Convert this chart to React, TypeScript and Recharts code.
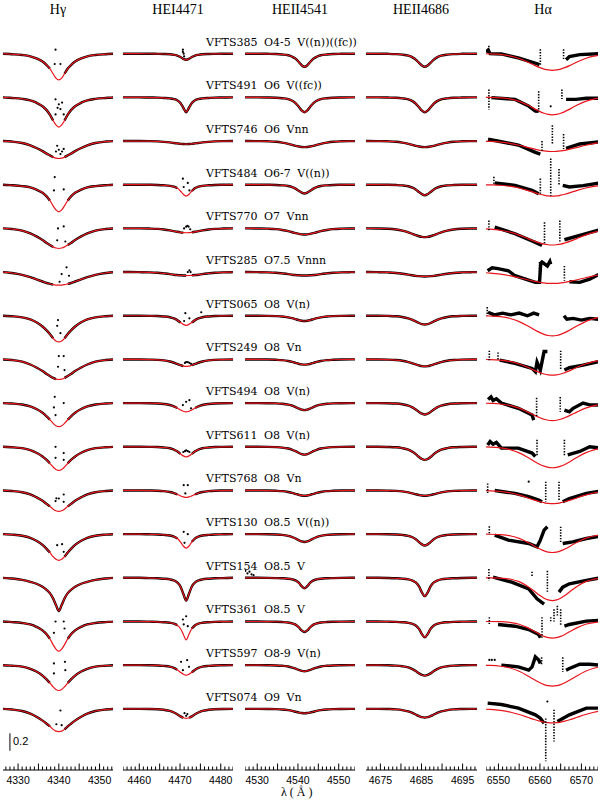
import React from 'react';
import { ComposedChart, Line, Scatter, XAxis, YAxis, ReferenceLine } from 'recharts';

// star names and spectral types, top to bottom
const STAR_IDS = ['VFTS385', 'VFTS491', 'VFTS746', 'VFTS484', 'VFTS770', 'VFTS285', 'VFTS065', 'VFTS249',
  'VFTS494', 'VFTS611', 'VFTS768', 'VFTS130', 'VFTS154', 'VFTS361', 'VFTS597', 'VFTS074'];
const SP_TYPES = ['O4-5 V((n))((fc))', 'O6 V((fc))', 'O6 Vnn', 'O6-7 V((n))', 'O7 Vnn', 'O7.5 Vnnn', 'O8 V(n)', 'O8 Vn',
  'O8 V(n)', 'O8 V(n)', 'O8 Vn', 'O8.5 V((n))', 'O8.5 V', 'O8.5 V', 'O8-9 V(n)', 'O9 Vn'];

const PANEL_TITLES = ['Hγ', 'HEI4471', 'HEII4541', 'HEII4686', 'Hα'];
const LINE_CENTERS = [4340.0, 4471.5, 4541.6, 4685.8, 6563.0];
const X_DOMAINS = [[4326.3, 4353.3], [4456, 4483], [4527, 4554], [4671.5, 4698.5], [6547, 6574]];
const TICK_LABELS = [[4330, 4340, 4350], [4460, 4470, 4480], [4530, 4540, 4550], [4675, 4685, 4695], [6550, 6560, 6570]];

// offsets from line centre (A) at which the profiles are read, mirrored on both sides
const GRID = [0, 0.7, 1.4, 2.2, 3, 4, 5.5, 7, 9, 11.5, 14, 17];
const GRID_HA = [0, 1, 2, 3, 4.5, 6, 8, 10, 12.5, 15, 18];

const ROW_STEP = 0.5;
const Y_DOMAIN = [0.3, 9.0];
const SCALE_BAR = [0.52, 0.72];

// model (red) line depths below continuum
const HG_MODEL = [
  [.30, .28, .23, .17, .13, .09, .054, .03, .015, .006, 0, 0],
  [.34, .316, .265, .197, .146, .102, .061, .034, .017, .007, 0, 0],
  [.20, .196, .184, .164, .144, .116, .08, .05, .022, .006, 0, 0],
  [.31, .288, .242, .18, .133, .093, .056, .031, .016, .006, 0, 0],
  [.23, .225, .212, .189, .166, .133, .092, .058, .025, .007, 0, 0],
  [.15, .149, .144, .135, .125, .108, .083, .059, .032, .011, 0, 0],
  [.30, .288, .258, .21, .168, .123, .075, .042, .018, .006, 0, 0],
  [.23, .225, .212, .189, .166, .133, .092, .058, .025, .007, 0, 0],
  [.27, .259, .232, .189, .151, .111, .068, .038, .016, .005, 0, 0],
  [.27, .259, .232, .189, .151, .111, .068, .038, .016, .005, 0, 0],
  [.24, .233, .214, .182, .154, .118, .078, .046, .02, .006, 0, 0],
  [.30, .288, .258, .21, .168, .123, .075, .042, .018, .006, 0, 0],
  [.38, .312, .236, .175, .137, .103, .068, .046, .023, .008, 0, 0],
  [.34, .316, .265, .197, .146, .102, .061, .034, .017, .007, 0, 0],
  [.29, .278, .249, .203, .162, .119, .073, .041, .017, .006, 0, 0],
  [.26, .255, .235, .20, .17, .135, .09, .055, .025, .008, 0, 0],
];

const HEI_MODEL = [
  [.07, .06, .038, .021, .013, .007, .0035, .002, .001, 0, 0, 0],
  [.17, .119, .065, .034, .02, .012, .007, .003, .002, 0, 0, 0],
  [.035, .034, .032, .027, .022, .016, .009, .004, .001, 0, 0, 0],
  [.13, .11, .072, .039, .023, .013, .0065, .003, .001, 0, 0, 0],
  [.05, .049, .045, .039, .032, .023, .013, .006, .002, 0, 0, 0],
  [.04, .039, .037, .034, .03, .023, .015, .008, .003, .001, 0, 0],
  [.11, .099, .077, .05, .031, .017, .008, .003, .001, 0, 0, 0],
  [.08, .076, .066, .052, .038, .024, .011, .005, .002, 0, 0, 0],
  [.10, .093, .078, .056, .038, .022, .01, .004, .001, 0, 0, 0],
  [.115, .104, .081, .052, .032, .017, .008, .003, .001, 0, 0, 0],
  [.08, .074, .062, .045, .03, .018, .008, .003, .001, 0, 0, 0],
  [.16, .136, .088, .048, .029, .016, .008, .004, .002, 0, 0, 0],
  [.26, .182, .099, .052, .031, .018, .01, .005, .003, 0, 0, 0],
  [.21, .147, .08, .042, .025, .015, .008, .004, .002, 0, 0, 0],
  [.115, .104, .081, .052, .032, .017, .008, .003, .001, 0, 0, 0],
  [.11, .102, .086, .062, .042, .024, .011, .004, .001, 0, 0, 0],
];

const HEII4541_MODEL = [
  [.15, .132, .095, .057, .035, .018, .009, .004, .0015, 0, 0, 0],
  [.17, .15, .107, .065, .039, .02, .01, .005, .002, 0, 0, 0],
  [.07, .068, .063, .055, .044, .032, .018, .008, .003, .001, 0, 0],
  [.10, .09, .07, .045, .028, .015, .007, .003, .001, 0, 0, 0],
  [.07, .068, .063, .055, .044, .032, .018, .008, .003, .001, 0, 0],
  [.04, .039, .037, .034, .03, .023, .015, .008, .003, .001, 0, 0],
  [.06, .057, .05, .039, .028, .018, .008, .004, .001, 0, 0, 0],
  [.06, .057, .05, .039, .028, .018, .008, .004, .001, 0, 0, 0],
  [.08, .074, .062, .045, .03, .018, .008, .003, .001, 0, 0, 0],
  [.09, .084, .07, .05, .034, .02, .009, .004, .001, 0, 0, 0],
  [.06, .057, .05, .039, .028, .018, .008, .004, .001, 0, 0, 0],
  [.09, .084, .07, .05, .034, .02, .009, .004, .001, 0, 0, 0],
  [.12, .096, .056, .03, .018, .01, .005, .003, .001, 0, 0, 0],
  [.12, .102, .066, .036, .022, .012, .006, .003, .001, 0, 0, 0],
  [.07, .065, .055, .039, .027, .015, .007, .003, .001, 0, 0, 0],
  [.05, .048, .042, .033, .024, .015, .007, .003, .001, 0, 0, 0],
];

const HEII4686_MODEL = [
  [.15, .135, .105, .068, .042, .023, .011, .005, .0015, 0, 0, 0],
  [.17, .151, .114, .071, .043, .022, .011, .005, .002, 0, 0, 0],
  [.07, .068, .063, .055, .044, .032, .018, .008, .003, .001, 0, 0],
  [.12, .108, .084, .054, .034, .018, .008, .004, .001, 0, 0, 0],
  [.10, .097, .09, .078, .063, .045, .025, .012, .004, .001, 0, 0],
  [.05, .049, .047, .043, .037, .029, .019, .01, .004, .001, 0, 0],
  [.10, .095, .083, .065, .047, .03, .014, .006, .002, 0, 0, 0],
  [.08, .077, .069, .057, .044, .03, .015, .007, .002, 0, 0, 0],
  [.13, .121, .101, .073, .049, .029, .013, .005, .001, 0, 0, 0],
  [.15, .14, .117, .084, .057, .033, .015, .006, .002, 0, 0, 0],
  [.06, .058, .052, .043, .033, .022, .011, .005, .002, 0, 0, 0],
  [.13, .117, .091, .059, .036, .02, .009, .004, .001, 0, 0, 0],
  [.21, .168, .099, .053, .032, .018, .009, .005, .002, 0, 0, 0],
  [.18, .144, .085, .045, .027, .015, .008, .004, .002, 0, 0, 0],
  [.12, .112, .094, .067, .046, .026, .012, .005, .001, 0, 0, 0],
  [.10, .095, .083, .065, .047, .03, .014, .006, .002, 0, 0, 0],
];

const HA_MODEL = [
  [.19, .186, .176, .16, .129, .095, .055, .028, .009, .002, 0],
  [.20, .195, .182, .163, .126, .088, .046, .02, .006, .001, 0],
  [.12, .118, .113, .106, .09, .072, .048, .029, .013, .005, .001],
  [.13, .128, .12, .109, .088, .065, .038, .019, .006, .002, 0],
  [.19, .187, .18, .167, .143, .114, .077, .046, .021, .008, .002],
  [.13, .129, .124, .118, .104, .088, .065, .044, .024, .011, .004],
  [.23, .226, .213, .193, .156, .115, .067, .034, .011, .003, 0],
  [.18, .177, .167, .151, .122, .09, .053, .026, .009, .002, 0],
  [.20, .196, .185, .168, .135, .1, .058, .029, .01, .003, 0],
  [.24, .235, .222, .202, .162, .12, .07, .035, .012, .003, 0],
  [.15, .148, .14, .129, .108, .083, .053, .029, .012, .004, .001],
  [.21, .205, .192, .171, .132, .092, .049, .021, .006, .001, 0],
  [.26, .253, .233, .203, .148, .096, .044, .016, .003, 0, 0],
  [.19, .185, .17, .148, .108, .07, .032, .012, .002, 0, 0],
  [.24, .235, .222, .202, .162, .12, .07, .035, .012, .003, 0],
  [.16, .158, .151, .141, .12, .096, .065, .039, .018, .007, .002],
];

// observed spectra: wavelength ranges (offset from centre) where the data leave the model
const HG_GAPS = [[-2.0, 1.3], [-1.3, 1.3], [-1.0, 1.3], [-1.5, 1.5], [-0.8, 1.5], [-0.8, 2.0], [-1.0, 1.3], [-0.5, 1.3],
  [-2.0, 1.5], [-1.5, 1.8], [-1.5, 2.0], [-1.5, 1.3], [0, 0], [-1.5, 1.5], [-2.0, 2.0], [-2.0, 1.2]];
const HEI_GAPS = [[0, 0], [0, 0], [0, 0], [-1.5, 1.3], [-0.6, 1.2], [0, 1.2], [-1.0, 1.0], [-0.4, 1.0],
  [-1.7, 1.7], [-0.8, 0.9], [-1.5, 1.5], [-1.5, 0.9], [0, 0], [-1.5, 0.8], [-1.5, 1.0], [-0.6, 0.6]];
const HEII_GAPS = STAR_IDS.map(() => [0, 0]);

// stray observed points [offset, depth]
const HG_DOTS = [
  [[-0.8, -0.046], [-1.0, 0.118], [0.4, 0.118]],
  [[-0.8, 0.023], [0, 0.08], [0.8, 0.06], [0.4, 0.134], [-0.8, 0.195], [1.2, 0.195], [-0.3, 0.12]],
  [[-0.4, 0.054], [0, 0.1], [0.4, 0.149], [0.8, 0.12], [1.2, 0.09], [-0.7, 0.12]],
  [[-1.0, -0.088], [-1.2, 0.065], [1.2, 0.054]],
  [[-0.2, 0.0], [1.2, -0.023], [-0.4, 0.137], [1.6, 0.15]],
  [[1.9, -0.054], [0.7, 0.023], [2.5, 0.042], [0.2, 0.111]],
  [[-0.4, 0.115], [0.4, 0.2], [-0.2, 0.05]],
  [[0, -0.038], [1.2, -0.038], [-0.2, 0.084], [1.4, 0.122]],
  [[-1.0, -0.072], [-1.2, 0.05], [1.2, 0.0], [-0.8, 0.137]],
  [[-0.8, 0.0], [-0.8, 0.126], [1.2, 0.072], [1.2, 0.149]],
  [[-0.8, 0.122], [0, 0.092], [1.2, 0.046], [1.2, 0.13], [-0.6, 0.09]],
  [[-0.4, 0.126], [0.8, 0.115], [1.2, 0.203]],
  [],
  [[-0.8, 0.0], [1.2, 0.0], [-1.2, 0.13], [1.4, 0.08]],
  [[-1.2, -0.02], [1.5, -0.038], [1.6, 0.057], [-1.2, 0.095]],
  [[0.4, 0.019], [-0.6, 0.176], [0.7, 0.187]],
];
const HEI_DOTS = [
  [[-0.8, -0.046], [-0.8, -0.02], [-0.6, 0.0], [-0.5, 0.03]],
  [], [],
  [[-0.8, -0.069], [0.4, -0.02], [-0.6, 0.026], [0.8, 0.065]],
  [[-0.5, 0.0], [0, -0.02], [0.3, -0.03], [0.6, -0.02], [1.0, 0.01]],
  [[0.4, 0.0], [0.8, -0.02], [1.1, 0.0]],
  [[-0.2, -0.03], [0.8, 0.03], [3.7, -0.04], [-0.5, 0.06]],
  [[-0.3, 0.04], [0, 0.03], [0.4, 0.03], [0.8, 0.04], [1.2, 0.05]],
  [[-0.8, 0.023], [0, -0.015], [0.8, -0.034], [1.2, 0.06]],
  [[-0.7, 0.06], [-0.3, 0.05], [0, 0.04], [0.4, 0.05], [0.8, 0.06]],
  [[-0.6, -0.061], [0.4, -0.061], [-0.2, 0.034]],
  [[-0.6, -0.027], [0.4, 0.0], [-0.4, 0.1]],
  [],
  [[-0.8, -0.023], [0, -0.06], [-0.6, 0.034], [0.4, 0.054]],
  [[-1.25, -0.038], [0.25, -0.057], [-0.8, 0.057], [0.7, 0.019]],
  [[-0.4, 0.05], [0, 0.08], [0.3, 0.06]],
];
const HEII4541_DOTS = STAR_IDS.map((s) => (s === 'VFTS154'
  ? [[-15, -0.06], [-14.5, -0.08], [-14, -0.05], [-13.5, -0.07], [-13, -0.04], [-12.5, -0.03]] : []));
const HEII4686_DOTS = STAR_IDS.map(() => []);

// H-alpha observed spectrum, blue and red of the nebular gap [offset, depth]
const HA_OBS_LEFT = [
  [[-16, -0.02], [-15.5, -0.04], [-15, 0.0], [-12.3, 0.003], [-8, 0.05], [-4.2, 0.107], [-3.1, 0.126]],
  [[-14.7, 0.003], [-9, 0.023], [-5.7, 0.1], [-4.1, 0.157], [-3.3, 0.16]],
  [[-15.5, -0.02], [-12.3, 0.008], [-8.2, 0.046], [-4.1, 0.13], [-2.9, 0.149]],
  [[-13.9, -0.02], [-9, 0.008], [-4.9, 0.065], [-3.3, 0.103]],
  [[-13.9, -0.015], [-9, 0.061], [-4.9, 0.145], [-2.5, 0.195]],
  [[-15.6, -0.015], [-14.5, -0.05], [-13.1, -0.04], [-10.6, -0.015], [-9, 0.042], [-4.1, 0.118], [-3.1, 0.118],
    [-2.8, -0.1], [-2.5, -0.115], [-1.2, -0.07], [-0.6, -0.12], [-0.4, -0.09]],
  [[-15.5, -0.04], [-14, -0.01], [-12, -0.03], [-10, -0.01], [-8, -0.03], [-6, 0.0], [-4.5, -0.03], [-3.2, -0.01]],
  [[-12.7, 0.008], [-9, 0.046], [-4.9, 0.103], [-4.1, 0.141], [-3.7, 0.03], [-2.9, 0.122], [-2, -0.09], [-1.2, -0.09]],
  [[-15.5, -0.04], [-14.8, -0.07], [-14.3, -0.03], [-13.5, -0.05], [-12.3, 0], [-8.2, 0.06], [-4.9, 0.137], [-4.5, 0.195]],
  [[-15.6, -0.02], [-15, -0.06], [-14.3, -0.03], [-13.5, -0.05], [-12.3, 0.015], [-8.2, 0.015], [-4.9, 0.072], [-4.1, 0.111]],
  [[-13.9, 0], [-9, 0.034], [-5.7, 0.072], [-3.3, 0.111], [-2.5, 0.13]],
  [[-13.9, 0.011], [-10.6, 0.069], [-5.7, 0.107], [-3.7, 0.145], [-2.9, 0.069], [-2, -0.046], [-1.2, -0.085]],
  [[-14.3, -0.008], [-9.8, 0.05], [-5.7, 0.126], [-3.7, 0.24], [-2, 0.3]],
  [[-13.1, 0.034], [-9, 0.054], [-5.7, 0.092], [-3.3, 0.149], [-2.9, 0.187]],
  [[-12.3, 0], [-8.2, 0.019], [-5.7, 0.057], [-4.9, 0.02], [-4.1, -0.095], [-3.3, -0.06], [-2.9, -0.02]],
  [[-15.6, -0.065], [-12.3, -0.05], [-8.2, -0.008], [-4.1, 0.069], [-2.9, 0.107], [-2, 0.164]],
];
const HA_OBS_RIGHT = [
  [[3.3, 0.069], [4.1, 0.034], [6.6, 0.011], [11.5, 0], [14, 0]],
  [[3.3, 0.023], [5.7, 0.023], [8.2, 0.011], [11.5, 0.011], [14, 0.01]],
  [[3.3, 0.084], [6.6, 0.034], [11.5, 0.008], [14, 0.005]],
  [[2.5, 0.008], [4.1, 0.026], [7.4, 0.01], [11.5, -0.02], [14, -0.02]],
  [[2.9, 0.13], [6.6, 0.08], [11.5, 0.015], [14, 0.005]],
  [[4.1, 0.111], [6.6, 0.118], [9, 0.08], [11.9, 0.011], [14, 0.005]],
  [[2.8, 0.0], [3.5, 0.04], [5, 0.03], [7, 0.05], [9, 0.03], [11, 0.04], [13, 0.02], [14, 0.03]],
  [[2.9, 0.122], [4.1, 0.095], [7.4, 0.065], [11.5, 0.02], [14, 0.01]],
  [[2.9, 0.08], [4.1, 0.1], [5, 0.06], [7.4, 0.0], [9, 0.02], [11.5, 0.023], [14, 0.01]],
  [[3.7, 0.092], [6.6, 0.054], [9, 0.0], [11.5, 0.015], [14, 0.0]],
  [[2.5, 0.13], [4.1, 0.092], [8.2, 0.034], [11.5, 0.008], [14, 0.0]],
  [[2.5, 0.107], [4.9, 0.088], [8.2, 0.05], [11.5, 0.023], [14, 0.01]],
  [[1.6, 0.164], [2.5, 0.107], [4.1, 0.069], [8.2, 0.03], [11.5, 0.0], [14, 0.0]],
  [[2.9, 0.054], [4.1, 0.034], [8.2, -0.004], [11.5, -0.015], [14, -0.015]],
  [[3.3, 0.057], [4.1, 0.038], [6.6, -0.011], [9, -0.011], [11.5, 0], [14, 0]],
  [[1.2, 0.145], [4.1, 0.069], [8.2, -0.008], [11.5, -0.008], [14, -0.02]],
];
// nebular spikes [offset, top depth, bottom depth]
const HA_SPIKES = [
  [[-2.9, -0.05, 0.126], [2.7, -0.05, 0.07], [-15.3, -0.09, 0.0]],
  [[-15.3, -0.09, 0.14], [-3.3, -0.07, 0.16], [2.3, -0.09, 0.02]],
  [[-2.5, 0.0, 0.12], [0, -0.18, 0.03], [2.7, -0.08, 0.09]],
  [[-14.1, -0.09, 0.0], [-2.9, -0.07, 0.103], [-0.4, -0.3, 0.126], [1.6, -0.18, 0.01]],
  [[-15.3, -0.09, 0.02], [-1.9, -0.07, 0.175], [1.8, -0.09, 0.157]],
  [[-3.1, -0.115, 0.115], [2.9, -0.07, 0.1]],
  [[-15.7, -0.1, 0.0]],
  [[-15.2, -0.1, 0.01], [-13.1, -0.08, 0.01], [2, -0.1, 0.12]],
  [[-3.8, -0.06, 0.16], [1.9, -0.07, 0.1]],
  [[-3.7, -0.08, 0.11], [2.9, -0.08, 0.11]],
  [[-15.6, -0.08, 0.03], [-1.6, -0.1, 0.13], [1.6, -0.1, 0.12]],
  [[-15.2, -0.09, 0.01], [2, -0.085, 0.107]],
  [[-15.3, -0.1, 0.03], [-4.9, -0.07, -0.02], [-1.2, -0.08, 0.16]],
  [[-15.2, -0.05, 0.03], [-2.5, -0.05, 0.187], [-0.4, -0.05, 0.0], [0.4, -0.14, 0.0], [1.2, -0.18, -0.06], [2, -0.14, 0.05]],
  [[-2.6, -0.09, 0.0], [2.5, -0.09, 0.077]],
  [[-1.6, 0.11, 0.6], [0.4, 0.01, 0.375]],
];
const HA_DOTS = [
  [], [[-0.4, 0.103]], [], [], [], [], [], [], [], [], [[-5.7, -0.1]], [], [],
  [], [[-15.2, -0.06], [-14.6, -0.06], [-13.9, -0.06]], [[-1.2, -0.084]],
];

const RED = '#e8141b';
const CHART_H = 800;
const AXIS_Y = 770;
const TOP = 10;

const PANELS = [
  { left: 3, width: 110, grid: GRID, model: HG_MODEL, gaps: HG_GAPS, dots: HG_DOTS },
  { left: 123, width: 110, grid: GRID, model: HEI_MODEL, gaps: HEI_GAPS, dots: HEI_DOTS },
  { left: 245, width: 110, grid: GRID, model: HEII4541_MODEL, gaps: HEII_GAPS, dots: HEII4541_DOTS },
  { left: 366, width: 111, grid: GRID, model: HEII4686_MODEL, gaps: HEII_GAPS, dots: HEII4686_DOTS },
  { left: 486, width: 112, grid: GRID_HA, model: HA_MODEL, gaps: null, dots: HA_DOTS },
];

const rowBase = (i: number) => 1 + (STAR_IDS.length - 1 - i) * ROW_STEP;
const yPx = (f: number) => AXIS_Y - (f - Y_DOMAIN[0]) * (AXIS_Y - TOP) / (Y_DOMAIN[1] - Y_DOMAIN[0]);

function mirrored(center: number, grid: number[], depth: number[], base: number, gap?: number[] | null) {
  const pts: { d: number; v: number }[] = [];
  for (let k = grid.length - 1; k >= 1; k--) pts.push({ d: -grid[k], v: depth[k] });
  for (let k = 0; k < grid.length; k++) pts.push({ d: grid[k], v: depth[k] });
  return pts.map((p) => ({
    x: center + p.d,
    y: gap && p.d > gap[0] && p.d < gap[1] ? null : base - p.v,
  }));
}

const toPts = (center: number, base: number, list: number[][]) => list.map(([d, v]) => ({ x: center + d, y: base - v }));

function makeTick(labels: number[]) {
  return (props: any) => {
    const { x, payload } = props;
    const v = payload.value;
    const len = v % 5 === 0 ? 6.5 : 3.5;
    return (
      <g>
        <line x1={x} x2={x} y1={AXIS_Y} y2={AXIS_Y - len} stroke="#000" strokeWidth={1} />
        {labels.includes(v) && (
          <text x={x} y={AXIS_Y + 13.5} textAnchor="middle" fontSize={10.5} fill="#000"
            fontFamily="'Liberation Sans', Arial, sans-serif">{v}</text>
        )}
      </g>
    );
  };
}

const dotShape = (p: any) => <circle cx={p.cx} cy={p.cy} r={1.1} fill="#000" />;

function Panel({ idx }: { idx: number }) {
  const p = PANELS[idx];
  const center = LINE_CENTERS[idx];
  const [lo, hi] = X_DOMAINS[idx];
  const ticks: number[] = [];
  for (let t = Math.ceil(lo); t <= hi; t++) ticks.push(t);
  const isHa = idx === 4;

  const obs: React.ReactNode[] = [];
  const model: React.ReactNode[] = [];
  const spikes: React.ReactNode[] = [];
  let dots: { x: number; y: number }[] = [];

  STAR_IDS.forEach((_, i) => {
    const base = rowBase(i);
    if (isHa) {
      obs.push(<Line key={'ol' + i} data={toPts(center, base, HA_OBS_LEFT[i])} dataKey="y" type="linear"
        stroke="#000" strokeWidth={3.4} dot={false} activeDot={false} isAnimationActive={false} />);
      obs.push(<Line key={'or' + i} data={toPts(center, base, HA_OBS_RIGHT[i])} dataKey="y" type="linear"
        stroke="#000" strokeWidth={3.4} dot={false} activeDot={false} isAnimationActive={false} />);
      HA_SPIKES[i].forEach(([d, a, b], k) => {
        spikes.push(<ReferenceLine key={'s' + i + '_' + k} segment={[{ x: center + d, y: base - a }, { x: center + d, y: base - b }]}
          stroke="#000" strokeWidth={1.6} strokeDasharray="1.4 1.4" />);
      });
    } else {
      obs.push(<Line key={'o' + i} data={mirrored(center, p.grid, p.model[i], base, p.gaps![i])} dataKey="y" type="monotone"
        stroke="#000" strokeWidth={2.4} dot={false} activeDot={false} isAnimationActive={false} />);
    }
    model.push(<Line key={'m' + i} data={mirrored(center, p.grid, p.model[i], base)} dataKey="y" type="monotone"
      stroke={RED} strokeWidth={1.2} dot={false} activeDot={false} isAnimationActive={false} />);
    dots = dots.concat(toPts(center, base, p.dots[i]));
  });

  return (
    <div style={{ position: 'absolute', left: p.left, top: 0 }}>
      <ComposedChart width={p.width} height={CHART_H} margin={{ top: TOP, right: 0, bottom: 0, left: 0 }}>
        <XAxis type="number" dataKey="x" domain={[lo, hi]} allowDataOverflow ticks={ticks} interval={0}
          tick={makeTick(TICK_LABELS[idx])} tickLine={false} axisLine={{ stroke: '#000' }} height={30} />
        <YAxis type="number" domain={Y_DOMAIN} allowDataOverflow hide />
        {obs}
        {model}
        <Scatter data={dots} dataKey="y" shape={dotShape} isAnimationActive={false} />
        {spikes}
        {idx === 0 && (
          <ReferenceLine segment={[{ x: 4328, y: SCALE_BAR[0] }, { x: 4328, y: SCALE_BAR[1] }]} stroke="#000" strokeWidth={1} />
        )}
      </ComposedChart>
    </div>
  );
}

const TITLE_X = [58, 178, 300, 421, 543];

export default function App() {
  return (
    <div style={{ position: 'absolute', left: 0, top: 0, width: 600, height: 800, background: '#fff', overflow: 'hidden' }}>
      {PANEL_TITLES.map((t, i) => (
        <div key={t} style={{
          position: 'absolute', left: TITLE_X[i], top: 2, transform: 'translateX(-50%)',
          fontFamily: "'Liberation Serif', serif", fontSize: 14, lineHeight: '16px', whiteSpace: 'nowrap',
        }}>{t}</div>
      ))}
      {PANELS.map((_, i) => <Panel key={i} idx={i} />)}
      {STAR_IDS.map((s, i) => (
        <div key={s + i} style={{
          position: 'absolute', left: 206, top: yPx(rowBase(i)) - 18, fontFamily: "'DejaVu Serif', serif",
          fontSize: 11, lineHeight: '13px', whiteSpace: 'pre', background: 'transparent',
        }}>
          <span>{s}</span>
          <span style={{ position: 'absolute', left: 58, top: 0, wordSpacing: 3 }}>{SP_TYPES[i]}</span>
        </div>
      ))}
      <div style={{ position: 'absolute', left: 13, top: 735, fontFamily: "'Liberation Sans', Arial, sans-serif", fontSize: 11 }}>0.2</div>
      <div style={{
        position: 'absolute', left: 281, top: 786, fontFamily: "'Liberation Serif', serif", fontSize: 12,
        lineHeight: '12px', whiteSpace: 'pre',
      }}>λ ( Å )</div>
    </div>
  );
}
